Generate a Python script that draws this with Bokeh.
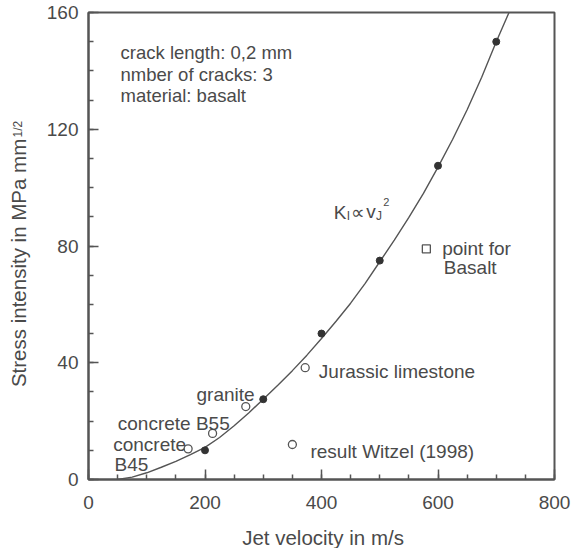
from math import pi

from bokeh.embed import file_html
from bokeh.models import Label, Range1d, SingleIntervalTicker
from bokeh.plotting import figure
from bokeh.resources import INLINE

# Stress intensity computed for basalt at several jet velocities
jet_velocity = [200, 300, 400, 500, 600, 700]
stress_intensity = [10, 27.5, 50, 75, 107.5, 150]

# K_I ~ v_J^2 trend line through the computed points
trend_velocity = [50, 75, 100, 125, 150, 175, 200, 225, 250, 275, 300, 325, 350, 375,
                  400, 425, 450, 475, 500, 525, 550, 575, 600, 625, 650, 675, 700, 723]
trend_stress = [0, 0.8, 2.3, 4.2, 6.2, 8.5, 11.0, 14.4, 18.4, 22.8, 27.5, 32.3, 37.3, 42.6,
                48.3, 54.2, 60.4, 67.2, 74.6, 82.0, 89.8, 98.0, 107.0, 116.5, 126.7, 137.8, 150.0, 160.5]

# Results of Witzel (1998) for other materials
rock_names = ["concrete B45", "concrete B55", "granite", "Jurassic limestone"]
rock_velocity = [171, 213, 270, 372]
rock_stress = [10.5, 15.8, 25, 38.3]

# Separate point for basalt
basalt_velocity = [580]
basalt_stress = [79]

# Key symbol for the Witzel results
key_velocity = [350]
key_stress = [12]

TEXT = "#4a4a4a"
LINE = "#555555"
FONT = "Liberation Sans"

p = figure(width=573, height=548, output_backend="svg", toolbar_location=None,
           x_range=Range1d(0, 800), y_range=Range1d(0, 160),
           min_border_left=88, min_border_right=19, min_border_top=12, min_border_bottom=69,
           background_fill_color="white", border_fill_color="white")
p.grid.visible = False
p.outline_line_color = LINE
p.outline_line_width = 2

p.xaxis.ticker = SingleIntervalTicker(interval=200, num_minor_ticks=4)
p.yaxis.ticker = SingleIntervalTicker(interval=40, num_minor_ticks=4)
for ax in (p.xaxis, p.yaxis):
    ax.axis_line_color = LINE
    ax.axis_line_width = 2
    ax.major_tick_line_color = LINE
    ax.minor_tick_line_color = LINE
    ax.major_tick_line_width = 1.5
    ax.minor_tick_line_width = 1.5
    ax.major_tick_in = 10
    ax.major_tick_out = 0
    ax.minor_tick_in = 5
    ax.minor_tick_out = 0
    ax.major_label_text_font = FONT
    ax.major_label_text_font_size = "19px"
    ax.major_label_text_color = TEXT
p.xaxis.major_label_standoff = 16
p.yaxis.major_label_standoff = 10

# trend line and points
p.line(trend_velocity, trend_stress, line_color=LINE, line_width=1.4)
p.scatter(jet_velocity, stress_intensity, marker="circle", size=7,
          fill_color="#333333", line_color="#333333")
p.scatter(rock_velocity, rock_stress, marker="circle", size=8,
          fill_color="white", line_color=LINE, line_width=1.3)
p.scatter(key_velocity, key_stress, marker="circle", size=8,
          fill_color="white", line_color=LINE, line_width=1.3)
p.scatter(basalt_velocity, basalt_stress, marker="square", size=8,
          fill_color="white", line_color=LINE, line_width=1.3)


def note(x, y, text, size="19px", font=FONT, align="left", angle=0, place="center"):
    label = Label(x=x, y=y, text=text, text_font=font, text_font_size=size,
                  text_color=TEXT, text_align=align, text_baseline="alphabetic",
                  angle=angle)
    p.add_layout(label, place)


note(55, 146.3, "crack length: 0,2 mm", size="18.5px")
note(55, 138.7, "nmber of cracks: 3", size="18.5px")
note(55, 131.5, "material: basalt", size="18.5px")

# K_I ∝ v_J² label
note(421, 91.5, "K")
note(443.5, 90.2, "I", size="12px")
note(450.6, 91.8, "∝", font="DejaVu Sans")
note(477, 91.8, "v")
note(493.5, 90.2, "J", size="12px")
note(506, 95.0, "2", size="11px")

note(607.2, 79.0, "point for")
note(610, 72.7, "Basalt")

note(395.4, 37.1, rock_names[3])
note(185.4, 29.0, rock_names[2])
note(50.3, 19.1, rock_names[1])
note(42.4, 11.9, "concrete")
note(44.6, 5.0, "B45")
note(381, 9.7, "result Witzel (1998)")

# axis titles, kept in the side panels so that they sit outside the frame
note(402.6, -19.8, "Jet velocity in m/s", size="20.5px", align="center", place="below")
note(-120.5, 74.2, "Stress intensity in MPa mm", size="20.5px", align="center",
     angle=pi / 2, place="left")
note(-121.5, 117.2, "1/2", size="12px", angle=pi / 2, place="left")

open("out.html", "w").write(file_html(p, INLINE))
